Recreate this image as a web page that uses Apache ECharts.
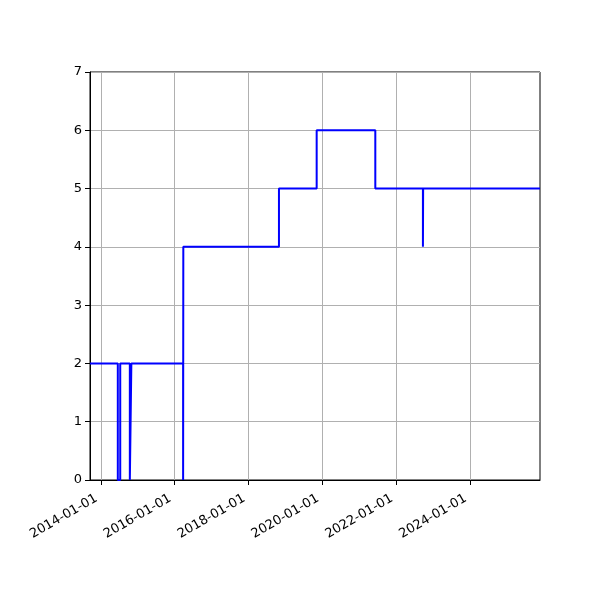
<!DOCTYPE html>
<html>
<head>
<meta charset="utf-8">
<script src="https://cdn.jsdelivr.net/npm/echarts@6/dist/echarts.min.js"></script>
<style>html,body{margin:0;padding:0;background:#fff}#c{width:600px;height:600px}</style>
</head>
<body>
<div id="c"></div>
<script>
// step-change dates (steps-post: value holds until next date)
const dates = ['2013-09-16','2014-06-18','2014-07-12','2014-10-15','2014-10-30','2016-03-25','2016-03-27','2018-10-29','2019-11-06','2021-06-08','2022-09-22','2022-09-24','2025-11-23'];
const values = [2,0,2,0,2,0,4,5,6,5,4,5,5];
const xTickLabels = ['2014-01-01','2016-01-01','2018-01-01','2020-01-01','2022-01-01','2024-01-01'];
const yTicks = [0,1,2,3,4,5,6,7];
const xMin = '2013-09-16', xMax = '2025-11-23';

const toTs = s => Date.parse(s + 'T00:00:00Z');
const data = dates.map((d, i) => [toTs(d), values[i]]);
const xTickTs = xTickLabels.map(toTs);

const chart = echarts.init(document.getElementById('c'), null, {renderer: 'canvas'});
const font = 'DejaVu Sans';
chart.setOption({
  animation: false,
  grid: {left: 90, right: 60, top: 72, bottom: 120, show: true, borderColor: '#000', borderWidth: 1, backgroundColor: 'transparent'},
  xAxis: {
    type: 'value',
    min: toTs(xMin), max: toTs(xMax),
    axisLine: {show: true, onZero: false, lineStyle: {color: '#000', width: 1}},
    axisTick: {show: true, length: 5, lineStyle: {color: '#000'}, customValues: xTickTs},
    axisLabel: {
      customValues: xTickTs,
      rotate: 30, margin: 15, padding: [0, 5, 0, 0], color: '#000', fontFamily: font, fontSize: 13,
      formatter: v => { const d = new Date(v); return d.toISOString().slice(0,10); }
    },
    splitLine: {show: true, lineStyle: {color: '#b0b0b0', width: 1}}
  },
  yAxis: {
    type: 'value', min: 0, max: 7, interval: 1,
    axisLine: {show: true, lineStyle: {color: '#000', width: 1}},
    axisTick: {show: true, length: 5, lineStyle: {color: '#000'}},
    axisLabel: {margin: 8, color: '#000', fontFamily: font, fontSize: 13, formatter: v => yTicks.includes(v) ? String(v) : ''},
    splitLine: {show: true, lineStyle: {color: '#b0b0b0', width: 1}}
  },
  series: [{
    type: 'line', step: 'end', data: data, showSymbol: false, symbol: 'none',
    lineStyle: {color: '#0000ff', width: 2}, clip: true
  }]
});
</script>
</body>
</html>
